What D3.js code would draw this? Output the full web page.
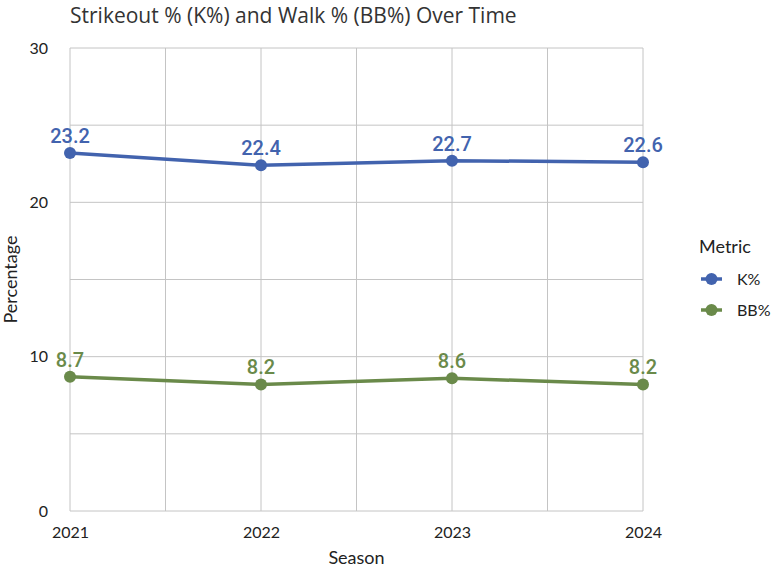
<!DOCTYPE html>
<html><head><meta charset="utf-8">
<script src="https://cdn.jsdelivr.net/npm/d3@7"></script>
<style>body{margin:0;background:#fff;} svg{display:block;}</style>
</head><body>
<script>
const seasons = [2021, 2022, 2023, 2024];
const kPct = [23.2, 22.4, 22.7, 22.6];
const bbPct = [8.7, 8.2, 8.6, 8.2];
const metrics = ["K%", "BB%"];
const colors = ["#4263AE", "#6A8A4A"];
const yTicks = [0, 10, 20, 30];

const W = 773, H = 571;
const svg = d3.select("body").append("svg").attr("width", W).attr("height", H);
const font = "Lato, 'Noto Sans', sans-serif";

const x = d3.scaleLinear().domain([2021, 2024]).range([70, 643]);
const y = d3.scaleLinear().domain([0, 30]).range([511, 48]);

const g = svg.append("g");
const xMinor = [2021.5, 2022.5, 2023.5];
const yMinor = [5, 15, 25];
const gridColor = "#c4c4c4";
g.selectAll(".ym").data(yMinor.concat(yTicks)).enter().append("line")
  .attr("x1", x(2021)).attr("x2", x(2024)).attr("y1", d => y(d)).attr("y2", d => y(d))
  .attr("stroke", gridColor).attr("stroke-width", 1);
g.selectAll(".xm").data(xMinor.concat(seasons)).enter().append("line")
  .attr("y1", y(0)).attr("y2", y(30)).attr("x1", d => x(d)).attr("x2", d => x(d))
  .attr("stroke", gridColor).attr("stroke-width", 1);

const yAxis = d3.axisLeft(y).tickValues(yTicks).tickSize(0).tickPadding(0);
svg.append("g").attr("transform", "translate(48,0)").call(yAxis)
  .call(s => s.select(".domain").remove())
  .selectAll("text").attr("font-family", font).attr("font-size", 16).attr("fill", "#222");
const xAxis = d3.axisBottom(x).tickValues(seasons).tickFormat(d3.format("d")).tickSize(0).tickPadding(0);
svg.append("g").attr("transform", "translate(0,527)").call(xAxis)
  .call(s => s.select(".domain").remove())
  .selectAll("text").attr("font-family", font).attr("font-size", 16).attr("fill", "#222");

svg.append("text").attr("x", (x(2021)+x(2024))/2).attr("y", 564).attr("text-anchor", "middle")
  .attr("font-family", font).attr("font-size", 18).attr("fill", "#222").text("Season");
svg.append("text").attr("transform", "translate(17," + ((y(0)+y(30))/2) + ") rotate(-90)")
  .attr("text-anchor", "middle").attr("font-family", font).attr("font-size", 18).attr("fill", "#222").text("Percentage");
svg.append("text").attr("x", 70).attr("y", 23).attr("font-family", "'Open Sans', sans-serif").attr("font-size", 21)
  .attr("fill", "#333").text("Strikeout % (K%) and Walk % (BB%) Over Time");

const series = [kPct, bbPct];
const line = d3.line().x((d, i) => x(seasons[i])).y(d => y(d));
series.forEach((vals, si) => {
  const c = colors[si];
  svg.append("path").datum(vals).attr("d", line).attr("fill", "none")
    .attr("stroke", c).attr("stroke-width", 3.5);
  svg.selectAll(".p" + si).data(vals).enter().append("circle")
    .attr("cx", (d, i) => x(seasons[i])).attr("cy", d => y(d)).attr("r", 6).attr("fill", c);
  svg.selectAll(".l" + si).data(vals).enter().append("text")
    .attr("x", (d, i) => x(seasons[i])).attr("y", d => y(d) - 10)
    .attr("text-anchor", "middle").attr("font-family", "Roboto, sans-serif").attr("font-weight", 500)
    .attr("font-size", 20).attr("fill", c).text(d => d.toFixed(1));
});

const lg = svg.append("g");
lg.append("text").attr("x", 699).attr("y", 253).attr("font-family", font).attr("font-size", 18)
  .attr("fill", "#222").text("Metric");
metrics.forEach((mname, i) => {
  const yy = 279 + i * 31;
  lg.append("line").attr("x1", 701).attr("x2", 722).attr("y1", yy).attr("y2", yy)
    .attr("stroke", colors[i]).attr("stroke-width", 3.5);
  lg.append("circle").attr("cx", 711.5).attr("cy", yy).attr("r", 6).attr("fill", colors[i]);
  lg.append("text").attr("x", 737).attr("y", yy + 5.5).attr("font-family", font).attr("font-size", 16)
    .attr("fill", "#222").text(mname);
});
</script>
</body></html>
